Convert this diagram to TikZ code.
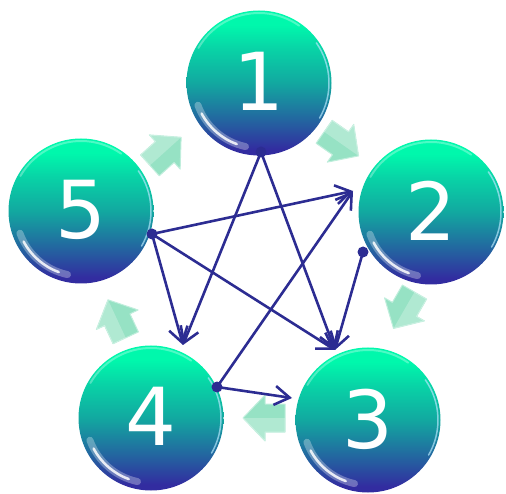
\documentclass[tikz,border=0pt]{standalone}
\usepackage{fontspec}
\newfontfamily\numfont{DejaVu Sans}
\usetikzlibrary{arrows.meta}
\definecolor{btop}{RGB}{0,248,172}
\definecolor{bmid}{RGB}{18,168,160}
\definecolor{bdark}{RGB}{50,44,160}
\definecolor{conn}{RGB}{44,44,146}
\definecolor{mint}{RGB}{150,226,196}
\pgfdeclareverticalshading{ballshade}{100bp}{color(0bp)=(bdark); color(27bp)=(bdark); color(37bp)=(bdark!55!bmid); color(50bp)=(bmid); color(62bp)=(btop!55!bmid); color(70bp)=(btop); color(100bp)=(btop)}
\tikzset{
  ball/.style={circle, minimum size=145pt, inner sep=0pt, shading=ballshade, text=white, font=\numfont\fontsize{80}{80}\selectfont},
  connector/.style={draw=conn, line width=2.6pt, -{Straight Barb[length=15pt,width=19pt]}},
  dotn/.style={circle, fill=conn, minimum size=11pt, inner sep=0pt},
  blockarr/.pic={
    \fill[mint, draw=mint!60!white, line width=1pt, line join=round]
      (-23,-14) -- (-3,-14) -- (-3,-23) -- (19,0) -- (-3,23) -- (-3,14) -- (-23,14) -- cycle;
    \fill[white, opacity=0.25] (-23,14) -- (-3,14) -- (-3,23) -- (19,0) -- (9,0) -- (-23,0) -- cycle;
  }
}
\begin{document}
\begin{tikzpicture}[x=1pt,y=1pt]
\useasboundingbox (0,0) rectangle (506,493);
% spheres
\node[ball] (c1) at (259,410) {\raisebox{3pt}{1}};
\node[ball] (c2) at (431,281) {\raisebox{3pt}{2}};
\node[ball] (c3) at (368,73) {\raisebox{3pt}{3}};
\node[ball] (c4) at (151,75) {\raisebox{3pt}{4}};
\node[ball] (c5) at (81,282) {\raisebox{3pt}{5}};
\foreach \c in {c1,c2,c3,c4,c5}{
  \draw[white, opacity=0.3, line width=7pt, line cap=round] (\c.center) ++(200:65) arc[start angle=200, end angle=258, radius=65];
  \draw[white, opacity=0.85, line width=2.5pt, line cap=round] (\c.center) ++(208:65) arc[start angle=208, end angle=250, radius=65];
  \draw[cyan!30!white, opacity=0.7, line width=1.5pt, line cap=round] (\c.center) ++(-30:70) arc[start angle=-30, end angle=35, radius=70];
  \draw[white, opacity=0.3, line width=2pt, line cap=round] (\c.center) ++(55:70) arc[start angle=55, end angle=150, radius=70];
}
% block arrows
\pic at (167,343) [rotate=42] {blockarr};
\pic at (343,348) [rotate=-35] {blockarr};
\pic at (403,181) [rotate=-120] {blockarr};
\pic at (262,75) [rotate=180] {blockarr};
\pic at (116,176) [rotate=115] {blockarr};
% start points and tips
\coordinate (p1) at (261,341);
\coordinate (p5) at (152,259);
\coordinate (p2) at (363,241);
\coordinate (p4) at (217,106);
\coordinate (t4) at (183,148);
\coordinate (t3) at (335,143);
\coordinate (t2) at (353,302);
\coordinate (t3b) at (292,95);
% connectors
\draw[connector] (p1) -- (t4);
\draw[connector] (p1) -- (t3);
\draw[connector] (p5) -- (t2);
\draw[connector] (p5) -- (t3);
\draw[connector] (p5) -- (t4);
\draw[connector] (p2) -- (t3);
\draw[connector] (p4) -- (t2);
\draw[connector] (p4) -- (t3b);
\node[dotn] (d1) at (p1) {};
\node[dotn] (d5) at (p5) {};
\node[dotn] (d2) at (p2) {};
\node[dotn] (d4) at (p4) {};
\end{tikzpicture}
\end{document}
